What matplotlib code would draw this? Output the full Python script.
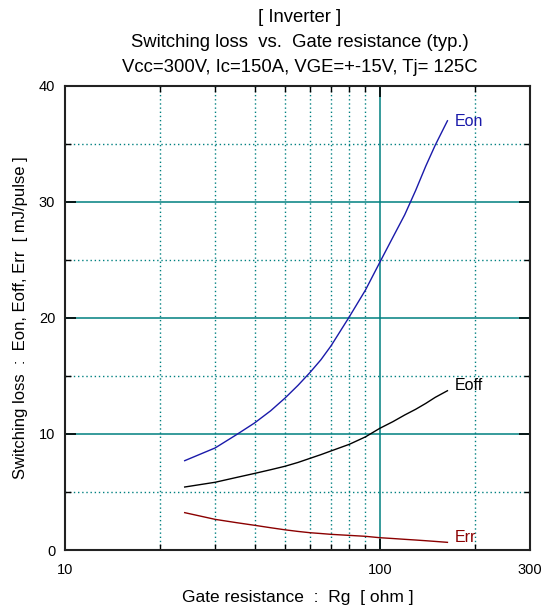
import matplotlib
matplotlib.use("Agg")
import matplotlib.pyplot as plt
from matplotlib.ticker import FixedLocator, NullFormatter

plt.rcParams["font.family"] = ["Liberation Sans", "DejaVu Sans"]

# values
rg = [24, 30, 35, 40, 45, 50, 55, 60, 65, 70, 80, 90,
      100, 110, 120, 130, 140, 150, 164]
eon = [7.7, 8.8, 9.93, 10.95, 12.0, 13.1, 14.2, 15.3, 16.4, 17.6, 20.1, 22.4,
       24.8, 26.95, 28.9, 31.0, 33.1, 34.9, 37.0]
eoff = [5.43, 5.84, 6.25, 6.6, 6.92, 7.22, 7.55, 7.9, 8.22, 8.54, 9.11, 9.75,
        10.49, 11.06, 11.64, 12.13, 12.64, 13.16, 13.73]
err = [3.22, 2.64, 2.36, 2.13, 1.92, 1.74, 1.6, 1.49, 1.42, 1.35, 1.26, 1.18,
       1.06, 0.99, 0.92, 0.86, 0.80, 0.74, 0.66]

x_major = [10, 100, 300]
x_minor = [20, 30, 40, 50, 60, 70, 80, 90, 200]
y_major = [0, 10, 20, 30, 40]
y_minor = [5, 15, 25, 35]

GRID = "#008080"
BLUE = "#1a1aaa"
RED = "#8b0000"

fig = plt.figure(figsize=(5.44, 6.08), dpi=100)
ax = fig.add_axes([65 / 544, 1 - 550 / 608, 465 / 544, 464 / 608])

ax.set_xscale("log")
ax.set_xlim(10, 300)
ax.set_ylim(0, 40)

# grid: solid at major, dotted at minor
for v in [10, 20, 30]:
    ax.axhline(v, color=GRID, lw=1.1, zorder=1)
for v in y_minor:
    ax.axhline(v, color=GRID, lw=1.0, ls=(0, (1, 2)), zorder=1)
ax.axvline(100, color=GRID, lw=1.1, zorder=1)
for v in x_minor:
    ax.axvline(v, color=GRID, lw=1.0, ls=(0, (1, 2)), zorder=1)

ax.plot(rg, eon, color=BLUE, lw=1.0, zorder=3)
ax.plot(rg, eoff, color="black", lw=1.0, zorder=3)
ax.plot(rg, err, color=RED, lw=1.0, zorder=3)

ax.text(173, 36.9, "Eon", color=BLUE, fontsize=11.5, va="center", ha="left")
ax.text(173, 14.2, "Eoff", color="black", fontsize=11.5, va="center", ha="left")
ax.text(173, 1.1, "Err", color=RED, fontsize=11.5, va="center", ha="left")

ax.xaxis.set_major_locator(FixedLocator(x_major))
ax.xaxis.set_minor_locator(FixedLocator(x_minor))
ax.xaxis.set_major_formatter(plt.FixedFormatter([str(v) for v in x_major]))
ax.xaxis.set_minor_formatter(NullFormatter())
ax.yaxis.set_major_locator(FixedLocator(y_major))
ax.yaxis.set_minor_locator(FixedLocator(y_minor))

ax.tick_params(which="both", direction="in", top=True, right=True,
               labelsize=10.5, pad=7, color="black")
ax.tick_params(which="major", length=8, width=1.2)
ax.tick_params(which="minor", length=4, width=1.0)
ax.tick_params(axis="x", which="major", pad=9)

for s in ax.spines.values():
    s.set_linewidth(1.5)
    s.set_color("#222222")
    s.set_zorder(4)

ax.set_xlabel("Gate resistance  :  Rg  [ ohm ]", fontsize=12.5, labelpad=10)
ax.set_ylabel("Switching loss  :  Eon, Eoff, Err  [ mJ/pulse ]", fontsize=12, labelpad=8)

title_lines = ["[ Inverter ]",
               "Switching loss  vs.  Gate resistance (typ.)",
               "Vcc=300V, Ic=150A, VGE=+-15V, Tj= 125C"]
for i, line in enumerate(title_lines):
    fig.text(300 / 544, 1 - (17 + 25.5 * i) / 608, line, fontsize=13.3,
             ha="center", va="center")

fig.savefig("out.png", dpi=100)
